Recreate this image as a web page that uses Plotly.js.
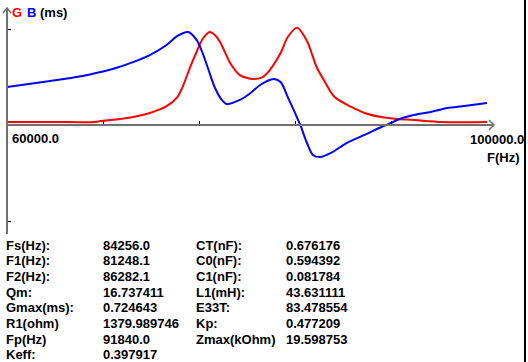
<!DOCTYPE html>
<html><head><meta charset="utf-8">
<script src="https://cdn.plot.ly/plotly-3.0.1.min.js"></script>
<style>html,body{margin:0;padding:0;background:#fff;}#plot{width:528px;height:362px;}</style>
</head><body><div id="plot"></div>
<script>
// ---- data ----
const freqG = [60000,63600,67300,67800,69400,70500,71900,73300,74200,74700,75300,75800,76300,76900,77400,77800,78600,79400,80500,81300,81900,82800,83400,84200,85000,85800,86400,87300,88700,89800,91200,92500,93900,96200,100000];
const valG  = [0.023,0.023,0.023,0.030,0.045,0.060,0.091,0.143,0.211,0.302,0.445,0.551,0.649,0.702,0.672,0.619,0.468,0.377,0.347,0.362,0.415,0.543,0.664,0.735,0.634,0.438,0.340,0.211,0.136,0.091,0.060,0.045,0.038,0.023,0.023];
const freqB = [60000,63600,66300,67800,68800,70500,71900,73300,74200,75100,75800,76300,76800,77300,77900,78300,79400,80300,81100,82200,82800,83400,84000,84500,85000,85500,86100,87000,88300,89800,91200,92000,92500,93900,95300,96700,98100,100000];
const valB  = [0.287,0.332,0.370,0.400,0.423,0.475,0.528,0.604,0.672,0.702,0.642,0.543,0.415,0.287,0.189,0.158,0.189,0.242,0.302,0.347,0.325,0.211,0.091,-0.015,-0.136,-0.226,-0.242,-0.211,-0.136,-0.075,-0.015,0.015,0.038,0.075,0.098,0.128,0.143,0.166];
const xTicks = [68000,76000,84000,92000];
const xMin = 60000, xMax = 100000;
const xMinLabel = "60000.0", xMaxLabel = "100000.0";
const labels1 = ["Fs(Hz):","F1(Hz):","F2(Hz):","Qm:","Gmax(ms):","R1(ohm)","Fp(Hz)","Keff:"];
const values1 = ["84256.0","81248.1","86282.1","16.737411","0.724643","1379.989746","91840.0","0.397917"];
const labels2 = ["CT(nF):","C0(nF):","C1(nF):","L1(mH):","E33T:","Kp:","Zmax(kOhm)"];
const values2 = ["0.676176","0.594392","0.081784","43.631111","83.478554","0.477209","19.598753"];
const gmax = 0.724643;

// ---- layout geometry (pixels) ----
const W=528,H=362, L=7, R=487, T=8, B=234, Y0=125;
const k = gmax/96; // ms per pixel
const yTop = (Y0-T)*k, yBot = -(B-Y0)*k;
const px = x => (x-L)/(R-L);
const py = y => (B-y)/(B-T);
const FONT = "Liberation Sans, Arial, sans-serif";
const AX = "#707070";

const ann = [];
function txt(x,y,t,col,xa){ ann.push({xref:'paper',yref:'paper',x:px(x),y:py(y),text:'<b>'+t+'</b>',showarrow:false,xanchor:xa||'left',yanchor:'middle',font:{family:FONT,size:13,color:col||'#000'},borderpad:0}); }
txt(11,12,'G','#ff0000'); txt(26,12,'B','#0000ff'); txt(39,12,'(ms)','#000');
txt(11,138,xMinLabel); txt(525,139,xMaxLabel,'#000','right'); txt(486,158,'F(Hz)');
const rowY0=245, rowDy=15.7;
labels1.forEach((t,i)=>txt(5,rowY0+i*rowDy,t));
values1.forEach((t,i)=>txt(102,rowY0+i*rowDy,t));
labels2.forEach((t,i)=>txt(195,rowY0+i*rowDy,t));
values2.forEach((t,i)=>txt(285,rowY0+i*rowDy,t));

const shapes = [
  {type:'line',xref:'paper',yref:'paper',x0:0,x1:px(494),y0:py(Y0),y1:py(Y0),line:{color:AX,width:2}},
  {type:'path',xref:'paper',yref:'paper',path:`M${px(489)},${py(120)} L${px(494)},${py(125)} L${px(489)},${py(130)}`,line:{color:AX,width:1.5}},
  {type:'line',xref:'paper',yref:'paper',x0:0,x1:0,y0:0,y1:py(9),line:{color:AX,width:2}},
  {type:'path',xref:'paper',yref:'paper',path:`M${px(3)},${py(13)} L${px(7)},${py(8)} L${px(11)},${py(13)}`,line:{color:AX,width:1.5}},
  {type:'line',xref:'paper',yref:'paper',x0:px(525),x1:px(525),y0:py(H+2),y1:py(-2),line:{color:'#000',width:2}}
];

const traces = [
  {x:freqG,y:valG,type:'scatter',mode:'lines',line:{color:'#ff0000',width:2,shape:'spline',smoothing:0.8},hoverinfo:'skip'},
  {x:freqB,y:valB,type:'scatter',mode:'lines',line:{color:'#0000ff',width:2,shape:'spline',smoothing:0.8},hoverinfo:'skip'}
];

const layout = {
  width:W,height:H,showlegend:false,
  margin:{l:L,r:W-R,t:T,b:H-B,pad:0},
  paper_bgcolor:'#fff',plot_bgcolor:'#fff',
  xaxis:{range:[xMin,xMax],tickvals:xTicks,ticks:'inside',ticklen:4,tickcolor:'#000',tickwidth:1,showticklabels:false,showgrid:false,zeroline:false,showline:false,anchor:'free',position:py(Y0),fixedrange:true},
  yaxis:{range:[yBot,yTop],tickvals:[gmax,-gmax],ticks:'inside',ticklen:4,tickcolor:'#000',tickwidth:1,showticklabels:false,showgrid:false,zeroline:false,showline:false,fixedrange:true},
  shapes:shapes,annotations:ann
};
Plotly.newPlot('plot',traces,layout,{staticPlot:true,displayModeBar:false});
</script></body></html>
